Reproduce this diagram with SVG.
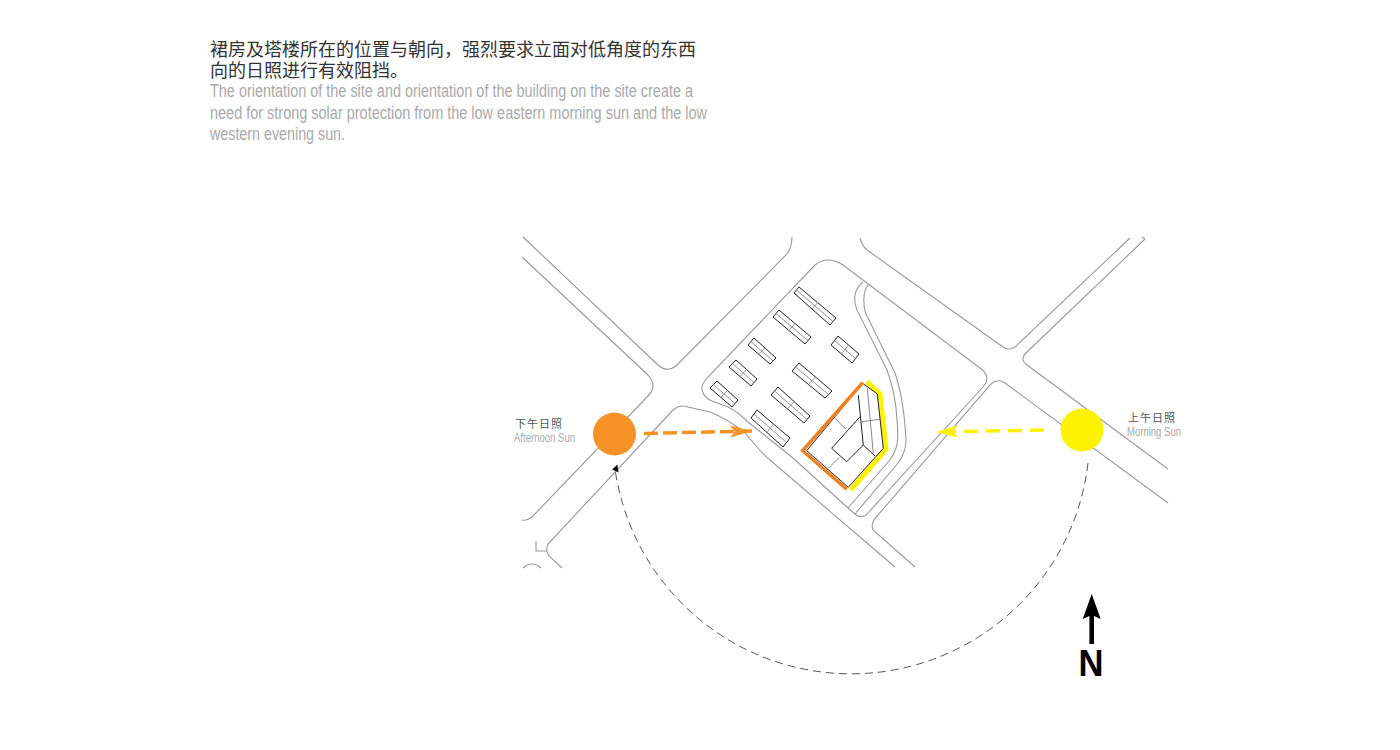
<svg xmlns="http://www.w3.org/2000/svg" width="1400" height="750" viewBox="0 0 1400 750">
<style>
.road{fill:none;stroke:#999;stroke-width:1.1}
.bld{fill:#fff;stroke:#222;stroke-width:1}
.div{fill:none;stroke:#888;stroke-width:.9}
.cn{font-family:"Noto Sans CJK SC","Liberation Sans",sans-serif;font-size:18px;fill:#333}
.en{font-family:"Liberation Sans",Arial,sans-serif;font-size:18px;fill:#aaa}
.lcn{font-family:"Noto Sans CJK SC","Liberation Sans",sans-serif;font-size:11px;fill:#555}
.len{font-family:"Liberation Sans",Arial,sans-serif;font-size:12px;fill:#aaa}
</style>
<defs>
<marker id="ao" markerUnits="userSpaceOnUse" markerWidth="24" markerHeight="14" refX="22" refY="7" orient="auto"><path d="M0 1 L22 7 L0 13 L5 7 Z" fill="#F79226"/></marker>
<marker id="ay" markerUnits="userSpaceOnUse" markerWidth="24" markerHeight="14" refX="22" refY="7" orient="auto"><path d="M0 1 L22 7 L0 13 L5 7 Z" fill="#FFF200"/></marker>
<marker id="ak" markerUnits="userSpaceOnUse" markerWidth="10" markerHeight="10" refX="5" refY="5" orient="auto"><path d="M1 8 L5 2 L9 8 Z" fill="#111"/></marker>
</defs>
<g id="caption">
<text class="cn" x="210" y="56">裙房及塔楼所在的位置与朝向，强烈要求立面对低角度的东西</text>
<text class="cn" x="210" y="77">向的日照进行有效阻挡。</text>
<text class="en" x="210" y="97" textLength="483" lengthAdjust="spacingAndGlyphs">The orientation of the site and orientation of the building on the site create a</text>
<text class="en" x="210" y="119" textLength="497" lengthAdjust="spacingAndGlyphs">need for strong solar protection from the low eastern morning sun and the low</text>
<text class="en" x="210" y="140" textLength="135" lengthAdjust="spacingAndGlyphs">western evening sun.</text>
</g>
<g id="roads">
<path class="road" d="M523 237 L658 365 Q667 373 676 366 L786 255 Q792 248 792 237"/>
<path class="road" d="M522 257 L648 375 Q658 386 648 396 L532 517 Q527 521 522 520"/>
<path class="road" d="M562 568 L549 556 Q545 550 548 544 L673 410 Q680 404 688 407 L710 412 Q728 419 745 433 L757 447 Q763 454 770 460 L895 567"/>
<path class="road" d="M848 508 L855 514 Q862 520 868 513 L983 387 Q992 377 980 368 L843 265 Q827 255 815 265 L707 378 Q701 385 702 390 Q704 398 712 401 Q720 404 728 407 Q738 412 748 422 L793 458 L848 508"/>
<path class="road" d="M863 282 Q853 290 855 303 Q856 310 860 316 L887 370 Q896 395 897 420 Q899 440 896 448 Q894 455 889 461 L848 508"/>
<path class="road" d="M868 285 Q863 292 864 303 Q864 311 867 316 L895 373 Q904 400 906 440 Q906 452 898 463 L855 514"/>
<path class="road" d="M860 238 Q862 246 867 250 L1003 347 Q1009 351 1015 347 L1130 238"/>
<path class="road" d="M1145 239 L1027 352 Q1019 359 1027 365 L1168 469"/>
<path class="road" d="M1168 503 L1005 383 Q998 378 991 384 L878 515 Q870 523 873 530 L915 567"/>
<path class="road" d="M1142 237 L1145 239"/>
<path class="road" d="M536 541 L536 551 L547 551"/>
<path class="road" d="M523 568 Q532 560 541 568"/>
</g>
<g id="blocks">
<g id="block-1"><polygon class="bld" points="799,287 836,318 830,325 794,293"/><path class="div" d="M796.500 290 L833 321.500 M818 302 L812 309"/></g>
<g id="block-2"><polygon class="bld" points="779,310 811,337 805,344 773,317"/><path class="div" d="M776 313.500 L808 340.500 M795 323.500 L789 330.500"/></g>
<g id="block-3"><polygon class="bld" points="754,338 776,358 770,364 748,345"/><path class="div" d="M751 341.500 L773 361 M765 348 L759 354.500"/></g>
<g id="block-4"><polygon class="bld" points="736,360 757,379 751,386 729,367"/><path class="div" d="M732.500 363.500 L754 382.500 M746.500 369.500 L740 376.500"/></g>
<g id="block-5"><polygon class="bld" points="717,381 738,400 732,407 710,388"/><path class="div" d="M713.500 384.500 L735 403.500 M727.500 390.500 L721 397.500"/></g>
<g id="block-6"><polygon class="bld" points="799,363 832,391 825,398 792,371"/><path class="div" d="M795.500 367 L828.500 394.500 M815.500 377 L808.500 384.500"/></g>
<g id="block-7"><polygon class="bld" points="778,387 810,416 804,423 771,395"/><path class="div" d="M774.500 391 L807 419.500 M794 401.500 L787.500 409"/></g>
<g id="block-8"><polygon class="bld" points="757,410 790,438 783,447 751,418"/><path class="div" d="M754 414 L786.500 442.500 M773.500 424 L767 432.500"/></g>
<g id="block-9"><polygon class="bld" points="838,336 859,354 852,363 831,345"/><path class="div" d="M834.500 340.500 L855.500 358.500 M848.500 345 L841.500 354"/></g>
</g>
<g id="tower">
<polyline points="866.700,381.700 880,394 886,449.300 850.700,490" fill="none" stroke="#FFF200" stroke-width="5"/>
<polygon points="862.700,383.300 806.700,450.700 848.300,487.300 883.300,448.300 877.300,394" fill="#fff" stroke="#222" stroke-width="1"/>
<path d="M858.300 395 L863.300 445 L875 456 M860 416.700 L831.700 448.300 L846.700 461.700 L863.300 445" fill="none" stroke="#222" stroke-width="1"/>
<path d="M867.300 388.300 L873.300 453.300 M861.700 421.700 L880 419.300 M835 418.300 L846 429.300 M839.300 457.300 L828.300 468.300" fill="none" stroke="#888" stroke-width="1"/>
<polyline points="862.700,382.700 802.700,450.700 846.700,489.300" fill="none" stroke="#F0801E" stroke-width="3.500"/>
</g>
<g id="sun-afternoon">
<circle cx="614.500" cy="434" r="21.500" fill="#F79226"/>
<text class="lcn" x="515" y="428" textLength="47">下午日照</text>
<text class="len" x="514" y="442" textLength="61" lengthAdjust="spacingAndGlyphs">Afternoon Sun</text>
</g>
<g id="sun-morning">
<circle cx="1082" cy="430" r="21.500" fill="#FFF200"/>
<text class="lcn" x="1128" y="422" textLength="47">上午日照</text>
<text class="len" x="1127" y="436" textLength="54" lengthAdjust="spacingAndGlyphs">Morning Sun</text>
</g>
<g id="connectors">
<path d="M644 433.500 L752 431" fill="none" stroke="#F79226" stroke-width="3.500" stroke-dasharray="14 5" marker-end="url(#ao)"/>
<path d="M1044 430 L936 432" fill="none" stroke="#FFF200" stroke-width="3.500" stroke-dasharray="14 8" marker-end="url(#ay)"/>
<path d="M1088 463 A238.500 238.500 0 0 1 615 469" fill="none" stroke="#555" stroke-width="1" stroke-dasharray="8 5" marker-end="url(#ak)"/>
</g>
<g id="north">
<path d="M1091.700 594 L1100.700 619 L1094 616 L1094 644 L1089.400 644 L1089.400 616 L1082.700 619 Z" fill="#000"/>
<text x="1091" y="676" text-anchor="middle" font-family="Liberation Sans,Arial,sans-serif" font-weight="700" font-size="37" fill="#000" textLength="25" lengthAdjust="spacingAndGlyphs">N</text>
</g>
</svg>
